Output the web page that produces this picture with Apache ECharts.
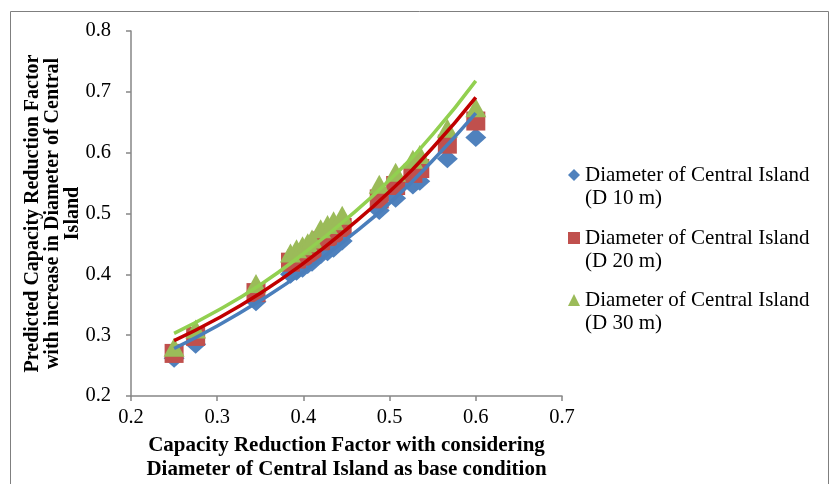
<!DOCTYPE html>
<html>
<head>
<meta charset="utf-8">
<script src="https://cdn.jsdelivr.net/npm/echarts@6/dist/echarts.min.js"></script>
<style>html,body{margin:0;padding:0;background:#fff;}#c{width:829px;height:484px;}</style>
</head>
<body>
<div id="c"></div>
<script>
// Data
const xValues = [0.25, 0.275, 0.345, 0.385, 0.392, 0.399, 0.405, 0.41, 0.42, 0.428, 0.435, 0.445, 0.488, 0.507, 0.527, 0.535, 0.567, 0.600];
const d10 = [0.262, 0.285, 0.355, 0.400, 0.405, 0.410, 0.416, 0.420, 0.432, 0.437, 0.443, 0.455, 0.505, 0.525, 0.547, 0.553, 0.590, 0.625];
const d20 = [0.270, 0.298, 0.370, 0.420, 0.425, 0.430, 0.435, 0.440, 0.455, 0.462, 0.468, 0.477, 0.524, 0.546, 0.566, 0.574, 0.614, 0.652];
const d30 = [0.280, 0.310, 0.385, 0.435, 0.442, 0.447, 0.452, 0.458, 0.475, 0.482, 0.488, 0.497, 0.548, 0.568, 0.589, 0.597, 0.640, 0.674];
// Trendlines
const trendX = [0.25, 0.30, 0.35, 0.40, 0.45, 0.50, 0.55, 0.60];
const trend10 = [0.278, 0.315, 0.357, 0.404, 0.458, 0.517, 0.587, 0.665];
const trend20 = [0.291, 0.327, 0.369, 0.418, 0.474, 0.536, 0.608, 0.691];
const trend30 = [0.303, 0.340, 0.383, 0.434, 0.491, 0.555, 0.630, 0.718];
const seriesNames = ['Diameter of Central Island\n(D 10 m)', 'Diameter of Central Island\n(D 20 m)', 'Diameter of Central Island\n(D 30 m)'];
const xTitle = 'Capacity Reduction Factor with considering\nDiameter of Central Island as base condition';
const yTitle = 'Predicted Capacity Reduction Factor\nwith increase in Diameter of Central\nIsland';

const pair = (xs, ys) => xs.map((x, i) => [x, ys[i]]);
const FONT = 'Liberation Serif';
const colors = ['#4F81BD', '#C0504D', '#9BBB59'];
const lineColors = ['#4A7EBB', '#C00000', '#92D050'];
const symbols = ['diamond', 'rect', 'triangle'];
const sizes = [[21, 19], 19, [21, 19]];
const LH = 23;
const legendIconY = [170, 233, 295];

const chart = echarts.init(document.getElementById('c'), null, {renderer: 'canvas'});
const axisCommon = {
  type: 'value',
  interval: 0.1,
  splitLine: {show: false},
  axisLine: {show: true, lineStyle: {color: '#868686', width: 1.5}},
  axisTick: {show: true, length: 5, lineStyle: {color: '#868686', width: 1.5}},
  axisLabel: {color: '#000', fontFamily: FONT, fontSize: 20.5, formatter: v => v.toFixed(1)},
  nameTextStyle: {color: '#000', fontFamily: FONT, fontSize: 21, fontWeight: 'bold'}
};
const option = {
  animation: false,
  backgroundColor: '#fff',
  grid: {left: 131, right: 267, top: 31, bottom: 88, containLabel: false, outerBoundsMode: 'none'},
  xAxis: Object.assign({}, axisCommon, {
    min: 0.2, max: 0.7,
    axisLabel: Object.assign({}, axisCommon.axisLabel, {margin: 11}),
    name: xTitle, nameLocation: 'middle', nameGap: 38, nameMoveOverlap: false,
    nameTextStyle: Object.assign({}, axisCommon.nameTextStyle, {lineHeight: 24})
  }),
  yAxis: Object.assign({}, axisCommon, {
    min: 0.2, max: 0.8,
    axisLabel: Object.assign({}, axisCommon.axisLabel, {margin: 20}),
    name: yTitle, nameLocation: 'middle', nameRotate: 90, nameGap: 48, nameMoveOverlap: false,
    nameTextStyle: Object.assign({}, axisCommon.nameTextStyle, {fontSize: 20, lineHeight: 20})
  }),
  legend: seriesNames.map((n, i) => ({
    data: [{name: n, icon: symbols[i]}],
    formatter: name => ' \n' + name,
    left: 563, top: legendIconY[i] - 1.5 * LH,
    orient: 'vertical',
    itemWidth: 12, itemHeight: 12,
    selectedMode: false,
    textStyle: {color: '#000', fontFamily: FONT, fontSize: 21, lineHeight: LH}
  })),
  graphic: [{
    type: 'rect', left: 8, top: 9, silent: true,
    shape: {width: 818, height: 500},
    style: {fill: 'none', stroke: '#7f7f7f', lineWidth: 1}
  }],
  series: [
    ...[d10, d20, d30].map((ys, i) => ({
      name: seriesNames[i], type: 'scatter', data: pair(xValues, ys),
      symbol: symbols[i], symbolSize: sizes[i],
      itemStyle: {color: colors[i], opacity: 1}, z: 2 + i
    })),
    ...[trend10, trend20, trend30].map((ys, i) => ({
      name: 'trend' + i, type: 'line', data: pair(trendX, ys),
      smooth: true, showSymbol: false, symbol: 'none',
      lineStyle: {color: lineColors[i], width: 3.5}, z: 10 + i
    }))
  ]
};
chart.setOption(option);
</script>
</body>
</html>
